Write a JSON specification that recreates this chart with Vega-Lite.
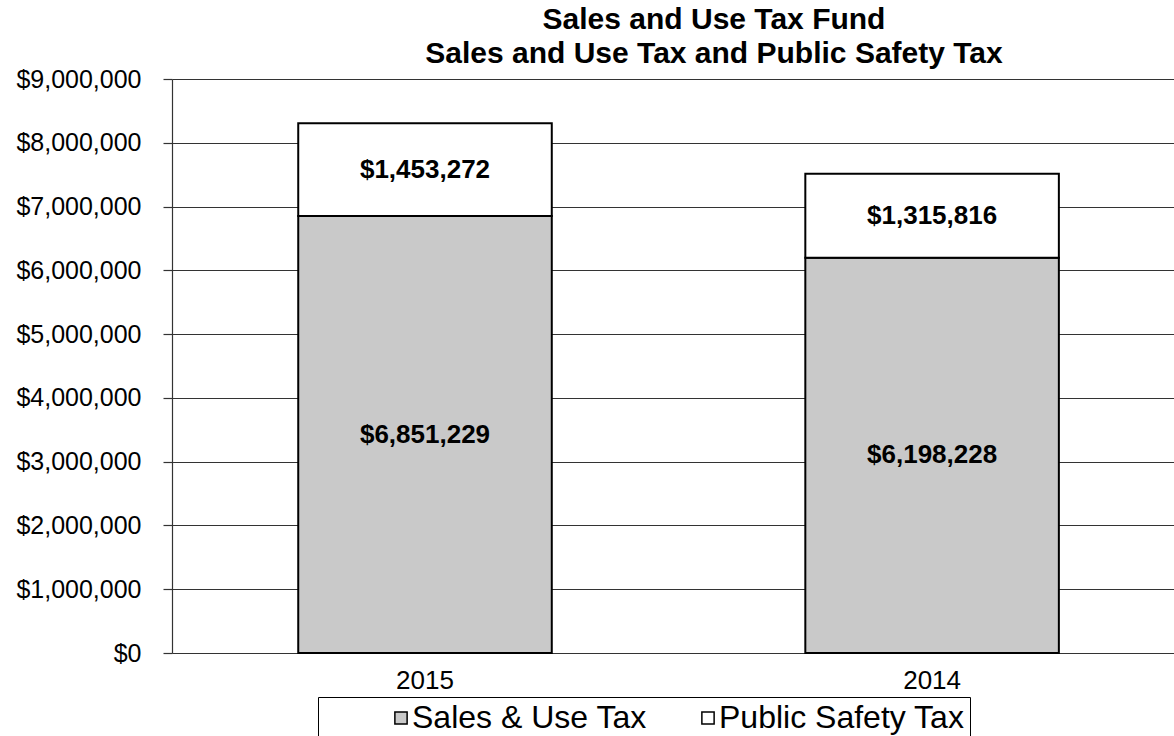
{
  "$schema": "https://vega.github.io/schema/vega-lite/v6.json",
  "width": 1002,
  "height": 574,
  "autosize": {"type": "none"},
  "padding": {"left": 172, "top": 79, "right": 0, "bottom": 83},
  "background": "white",
  "config": {"view": {"stroke": null}},
  "title": {
    "text": ["Sales and Use Tax Fund", "Sales and Use Tax and Public Safety Tax"],
    "font": "Liberation Sans",
    "fontSize": 30,
    "fontWeight": "bold",
    "color": "#000000",
    "anchor": "middle",
    "frame": "group",
    "dx": 41,
    "offset": -2,
    "lineHeight": 34
  },
  "data": {
    "values": [
      {"year": "2015", "type": "Sales & Use Tax", "amount": 6851229, "ord": 1},
      {"year": "2015", "type": "Public Safety Tax", "amount": 1453272, "ord": 2},
      {"year": "2014", "type": "Sales & Use Tax", "amount": 6198228, "ord": 1},
      {"year": "2014", "type": "Public Safety Tax", "amount": 1315816, "ord": 2}
    ]
  },
  "transform": [
    {"stack": "amount", "groupby": ["year"], "sort": [{"field": "ord"}], "as": ["y0", "y1"]},
    {"calculate": "(datum.y0 + datum.y1) / 2", "as": "ymid"}
  ],
  "encoding": {
    "x": {
      "field": "year",
      "type": "nominal",
      "sort": ["2015", "2014"],
      "scale": {"paddingInner": 0.5, "paddingOuter": 0.238, "align": 0.523},
      "axis": {
        "title": null,
        "labelAngle": 0,
        "domain": false,
        "ticks": false,
        "labelFont": "Liberation Sans",
        "labelFontSize": 26,
        "labelColor": "#000000",
        "labelPadding": 14
      }
    }
  },
  "layer": [
    {
      "mark": {"type": "bar", "stroke": "#000000", "strokeWidth": 2},
      "encoding": {
        "y": {
          "field": "y0",
          "type": "quantitative",
          "scale": {"domain": [0, 9000000], "nice": false},
          "axis": {
            "title": null,
            "values": [0, 1000000, 2000000, 3000000, 4000000, 5000000, 6000000, 7000000, 8000000, 9000000],
            "format": "$,.0f",
            "grid": true,
            "gridColor": "#333333",
            "gridOpacity": 1,
            "gridWidth": 1.2,
            "domainColor": "#333333",
            "domainWidth": 1.2,
            "tickColor": "#333333",
            "tickWidth": 1.2,
            "tickSize": 9,
            "labelFont": "Liberation Sans",
            "labelFontSize": 25,
            "labelColor": "#000000",
            "labelPadding": 22
          }
        },
        "y2": {"field": "y1"},
        "fill": {
          "field": "type",
          "type": "nominal",
          "scale": {"domain": ["Sales & Use Tax", "Public Safety Tax"], "range": ["#c9c9c9", "#ffffff"]},
          "legend": {
            "orient": "none",
            "legendX": 146,
            "legendY": 618,
            "direction": "horizontal",
            "title": " ",
            "titleOrient": "left",
            "titleFontSize": 10,
            "titlePadding": 62,
            "symbolType": "square",
            "symbolSize": 150,
            "symbolStrokeColor": "#000000",
            "symbolStrokeWidth": 1.5,
            "symbolOpacity": 1,
            "labelFont": "Liberation Sans",
            "labelFontSize": 32,
            "labelLimit": 500,
            "labelColor": "#000000",
            "labelOffset": -5,
            "columnPadding": 45,
            "strokeColor": "#000000",
            "fillColor": "#ffffff",
            "padding": 5
          }
        }
      }
    },
    {
      "mark": {"type": "text", "font": "Liberation Sans", "fontWeight": "bold", "fontSize": 26, "color": "#000000"},
      "encoding": {
        "y": {"field": "ymid", "type": "quantitative"},
        "text": {"field": "amount", "type": "quantitative", "format": "$,.0f"}
      }
    }
  ]
}
